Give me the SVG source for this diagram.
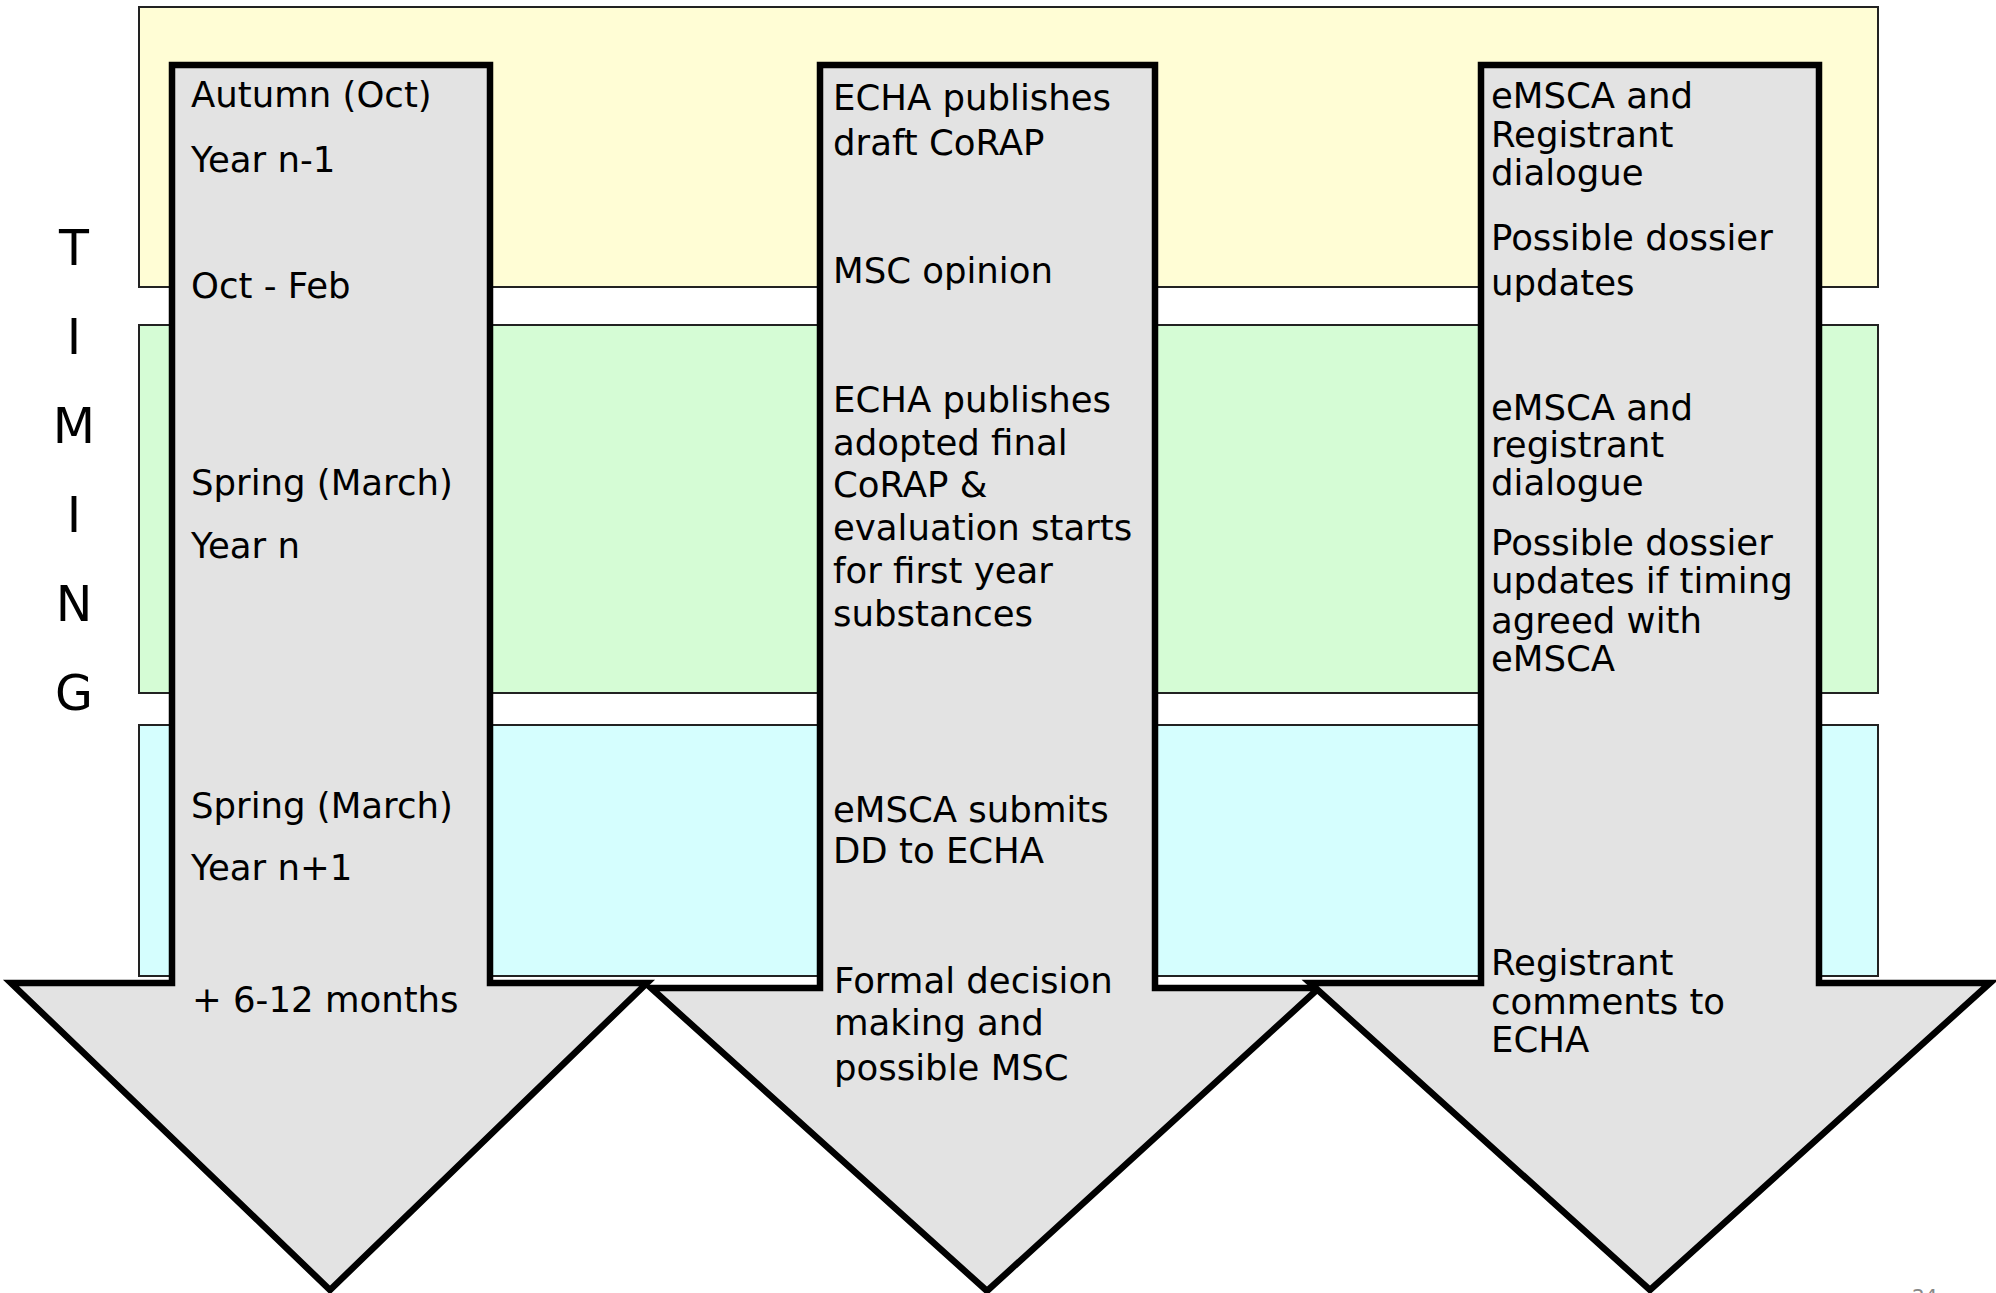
<svg xmlns="http://www.w3.org/2000/svg" width="1996" height="1293" viewBox="0 0 1996 1293">
<style>
.band{stroke:#222;stroke-width:2}
.arrow{fill:#E3E3E3;stroke:#000;stroke-width:6.5;stroke-linejoin:miter}
.t{font-family:"DejaVu Sans","Verdana",sans-serif;font-size:35.5px;fill:#000}
.timing{font-family:"DejaVu Sans","Verdana",sans-serif;font-size:49px;fill:#000;text-anchor:middle}
.pg{font-family:"DejaVu Sans",sans-serif;font-size:20px;fill:#888}
</style>
<rect width="1996" height="1293" fill="#fff"/>
<g id="bands">
<g id="band-year-n-1"><rect class="band" x="139" y="7" width="1739" height="280" fill="#FFFDD5"/></g>
<g id="band-year-n"><rect class="band" x="139" y="325" width="1739" height="368" fill="#D5FCD5"/></g>
<g id="band-year-n+1"><rect class="band" x="139" y="725" width="1739" height="251" fill="#D5FEFE"/></g>
</g>
<g id="timing-label">
<text class="timing" x="74" y="265">T</text>
<text class="timing" x="74" y="354">I</text>
<text class="timing" x="74" y="443">M</text>
<text class="timing" x="74" y="532">I</text>
<text class="timing" x="74" y="621">N</text>
<text class="timing" x="74" y="710">G</text>
</g>
<g id="connectors"></g>
<g id="arrow-timing">
<path class="arrow" d="M172,65 H490 V983 H647 L330,1290 L11,983 H172 Z"/>
<text class="t" x="191" y="107">Autumn (Oct)</text>
<text class="t" x="191" y="172">Year n-1</text>
<text class="t" x="191" y="298">Oct - Feb</text>
<text class="t" x="191" y="495">Spring (March)</text>
<text class="t" x="191" y="558">Year n</text>
<text class="t" x="191" y="818">Spring (March)</text>
<text class="t" x="191" y="880">Year n+1</text>
<text class="t" x="192" y="1012">+ 6-12 months</text>
</g>
<g id="arrow-echa">
<path class="arrow" d="M820,65 H1155 V988 H1319 L987,1291 L651,988 H820 Z"/>
<text class="t" x="833" y="110">ECHA publishes</text>
<text class="t" x="833" y="155">draft CoRAP</text>
<text class="t" x="833" y="283">MSC opinion</text>
<text class="t" x="833" y="412">ECHA publishes</text>
<text class="t" x="833" y="455">adopted final</text>
<text class="t" x="833" y="497">CoRAP &amp;</text>
<text class="t" x="833" y="540">evaluation starts</text>
<text class="t" x="833" y="583">for first year</text>
<text class="t" x="833" y="626">substances</text>
<text class="t" x="833" y="822">eMSCA submits</text>
<text class="t" x="833" y="863">DD to ECHA</text>
<text class="t" x="834" y="993">Formal decision</text>
<text class="t" x="834" y="1035">making and</text>
<text class="t" x="834" y="1080">possible MSC</text>
</g>
<g id="arrow-registrant">
<path class="arrow" d="M1481,65 H1819 V983 H1990 L1650,1290 L1310,983 H1481 Z"/>
<text class="t" x="1491" y="108">eMSCA and</text>
<text class="t" x="1491" y="147">Registrant</text>
<text class="t" x="1491" y="185">dialogue</text>
<text class="t" x="1491" y="250">Possible dossier</text>
<text class="t" x="1491" y="295">updates</text>
<text class="t" x="1491" y="420">eMSCA and</text>
<text class="t" x="1491" y="457">registrant</text>
<text class="t" x="1491" y="495">dialogue</text>
<text class="t" x="1491" y="555">Possible dossier</text>
<text class="t" x="1491" y="593">updates if timing</text>
<text class="t" x="1491" y="633">agreed with</text>
<text class="t" x="1491" y="671">eMSCA</text>
<text class="t" x="1491" y="975">Registrant</text>
<text class="t" x="1491" y="1014">comments to</text>
<text class="t" x="1491" y="1052">ECHA</text>
</g>
<g id="page-number"><text class="pg" x="1912" y="1303">24</text></g>
</svg>
